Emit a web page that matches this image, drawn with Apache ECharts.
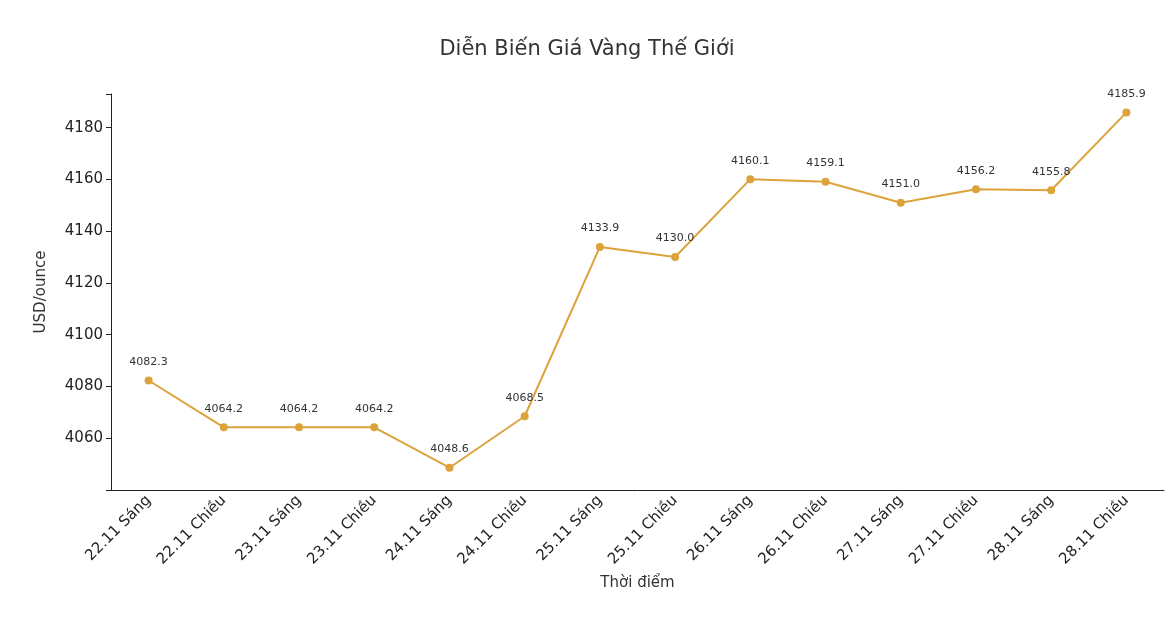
<!DOCTYPE html>
<html>
<head>
<meta charset="utf-8">
<script src="https://cdn.jsdelivr.net/npm/echarts@6/dist/echarts.min.js"></script>
<style>html,body{margin:0;padding:0;background:#fff}#c{width:1174px;height:626px}</style>
</head>
<body>
<div id="c"></div>
<script>
// 时间点与价格
const categories = ['22.11 Sáng', '22.11 Chiều', '23.11 Sáng', '23.11 Chiều', '24.11 Sáng', '24.11 Chiều',
  '25.11 Sáng', '25.11 Chiều', '26.11 Sáng', '26.11 Chiều', '27.11 Sáng', '27.11 Chiều', '28.11 Sáng', '28.11 Chiều'];
const prices = [4082.3, 4064.2, 4064.2, 4064.2, 4048.6, 4068.5, 4133.9, 4130.0, 4160.1, 4159.1, 4151.0, 4156.2, 4155.8, 4185.9];

const chart = echarts.init(document.getElementById('c'));
const font = 'DejaVu Sans';
chart.setOption({
  animation: false,
  textStyle: { fontFamily: font },
  title: {
    text: 'Diễn Biến Giá Vàng Thế Giới', left: 'center', top: 34,
    textStyle: { fontFamily: font, fontSize: 21, fontWeight: 'normal', color: '#333' }
  },
  grid: { left: 111, right: 10, top: 94, bottom: 136 },
  xAxis: {
    type: 'category', data: categories, boundaryGap: true,
    name: 'Thời điểm', nameLocation: 'middle', nameGap: 86,
    nameTextStyle: { fontSize: 15, color: '#333' },
    axisLine: { lineStyle: { color: '#222' } },
    axisTick: { alignWithLabel: true, length: 5, lineStyle: { color: '#222' } },
    axisLabel: { rotate: 45, fontSize: 15, color: '#222', margin: 8 }
  },
  yAxis: {
    type: 'value', min: 4040, max: 4193, interval: 20,
    name: 'USD/ounce', nameLocation: 'middle', nameGap: 62,
    nameTextStyle: { fontSize: 15, color: '#333' },
    splitLine: { show: false },
    axisLine: { show: true, lineStyle: { color: '#222' } },
    axisTick: { show: true, length: 5, lineStyle: { color: '#222' } },
    axisLabel: { fontSize: 15, color: '#222',
      formatter: v => (v === 4040 || v > 4180) ? '' : String(v) }
  },
  series: [{
    type: 'line', data: prices,
    symbol: 'circle', symbolSize: 8,
    lineStyle: { color: '#DCA33B', width: 2 },
    itemStyle: { color: '#DCA33B' },
    label: { show: true, position: 'top', distance: 9, fontSize: 11, color: '#333',
      formatter: p => p.value.toFixed(1) }
  }]
});
</script>
</body>
</html>
